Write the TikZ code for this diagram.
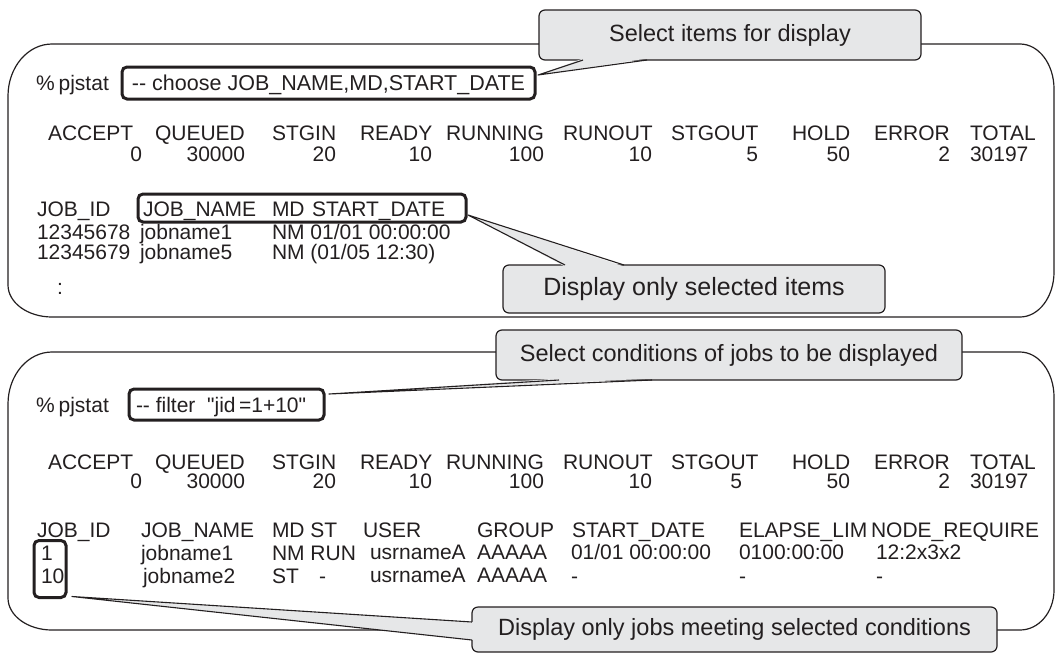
\documentclass[tikz,border=0pt]{standalone}
\usepackage{fontspec}
\newfontfamily\termfont{Liberation Sans}
\usetikzlibrary{calc}
\definecolor{ink}{HTML}{231F20}
\definecolor{bubblefill}{HTML}{E6E7E8}
\newcommand\tabsize{\termfont\fontsize{21}{24}\selectfont}
\newcommand\cmdsize{\termfont\fontsize{21.5}{24}\selectfont}
\newcommand\callsize{\termfont\fontsize{23.5}{26}\selectfont}
\newcommand\bigcallsize{\termfont\fontsize{25}{28}\selectfont}
\tikzset{
  txt/.style={inner sep=0pt, outer sep=0pt, text=ink, font=\tabsize},
  lt/.style={txt, anchor=base west},
  rt/.style={txt, anchor=base east},
  ct/.style={txt, anchor=base},
  panel/.style={draw=ink, line width=1.2pt},
  pick/.style={draw=ink, line width=3pt, rounded corners=5pt, inner sep=0pt, outer sep=0pt},
  bubble/.style={draw=ink, fill=bubblefill, line width=1.2pt, rounded corners=6pt,
                 inner sep=0pt, outer sep=0pt, text=ink, font=\callsize},
  tail/.style={draw=ink, line width=1.1pt, line join=round},
}
\begin{document}
\begin{tikzpicture}[x=1pt,y=1pt]
\useasboundingbox (0,0) rectangle (1056,-653);

% ---------- upper terminal panel ----------
\draw[panel] (52,-44) -- (1020,-44)
  arc[start angle=90,end angle=0,x radius=34,y radius=45] -- (1054,-272)
  arc[start angle=0,end angle=-90,x radius=34,y radius=45] -- (52,-317)
  arc[start angle=270,end angle=180,x radius=44,y radius=32] -- (8,-96)
  arc[start angle=180,end angle=90,x radius=44,y radius=52] -- cycle;

\node[lt] (p1) at (36,-90.5) {\%\kern4pt pjstat};
\node[pick, minimum width=413pt, minimum height=32pt] (choose) at (328.5,-83) {};
\node[ct, font=\cmdsize] (choosetxt) at (328.5,-90.5) {-- choose JOB\_NAME,MD,START\_DATE};

% status summary
\node[lt] (h1a) at (48,-140.5) {ACCEPT};
\node[lt] (h1b) at (155,-140.5) {QUEUED};
\node[lt] (h1c) at (272,-140.5) {STGIN};
\node[lt] (h1d) at (360,-140.5) {READY};
\node[lt] (h1e) at (446,-140.5) {RUNNING};
\node[lt] (h1f) at (563,-140.5) {RUNOUT};
\node[lt] (h1g) at (671,-140.5) {STGOUT};
\node[lt] (h1h) at (792,-140.5) {HOLD};
\node[lt] (h1i) at (874,-140.5) {ERROR};
\node[lt] (h1j) at (970,-140.5) {TOTAL};
\node[rt] (v1a) at (142,-161) {0};
\node[rt] (v1b) at (245,-161) {30000};
\node[rt] (v1c) at (336,-161) {20};
\node[rt] (v1d) at (432,-161) {10};
\node[rt] (v1e) at (544,-161) {100};
\node[rt] (v1f) at (652,-161) {10};
\node[rt] (v1g) at (758,-161) {5};
\node[rt] (v1h) at (850,-161) {50};
\node[rt] (v1i) at (950,-161) {2};
\node[lt] (v1j) at (970,-161) {30197};

% job list
\node[pick, minimum width=328pt, minimum height=28pt] (jn) at (302,-208) {};
\node[lt] (j1a) at (37,-216) {JOB\_ID};
\node[lt] (j1b) at (143,-216) {JOB\_NAME};
\node[lt] (j1c) at (272,-216) {MD};
\node[lt] (j1d) at (312,-216) {START\_DATE};
\node[lt] (r1a) at (37,-239) {12345678};
\node[lt] (r1b) at (140,-239) {jobname1};
\node[lt] (r1c) at (272,-239) {NM 01/01 00:00:00};
\node[lt] (r2a) at (37,-259.5) {12345679};
\node[lt] (r2b) at (140,-259.5) {jobname5};
\node[lt] (r2c) at (272,-259.5) {NM (01/05 12:30)};
\node[lt] (more) at (57,-294) {:};

% callouts of the upper panel
\node[bubble, minimum width=382pt, minimum height=50pt] (c1) at (730,-35) {Select items for display};
\coordinate (t1) at ($(choose.north east)+(3pt,-8pt)$);
\fill[bubblefill] ($(c1.south west)+(44pt,1.5pt)$) -- (t1) -- ($(c1.south west)+(108pt,1.5pt)$) -- cycle;
\draw[tail] ($(c1.south west)+(44pt,0)$) -- (t1) -- ($(c1.south west)+(108pt,0)$);

\node[bubble, font=\bigcallsize, minimum width=382pt, minimum height=48pt] (c3) at (694,-289) {Display only selected items};
\coordinate (t3) at ($(jn.east)+(2pt,-7pt)$);
\fill[bubblefill] ($(c3.north west)+(62pt,-1.5pt)$) -- (t3) -- ($(c3.north west)+(121pt,-1.5pt)$) -- cycle;
\draw[tail] ($(c3.north west)+(62pt,0)$) -- (t3) -- ($(c3.north west)+(121pt,0)$);

% ---------- lower terminal panel ----------
\draw[panel] (52,-352) -- (1020,-352)
  arc[start angle=90,end angle=0,x radius=34,y radius=45] -- (1054,-590)
  arc[start angle=0,end angle=-90,x radius=34,y radius=40] -- (52,-630)
  arc[start angle=270,end angle=180,x radius=44,y radius=32] -- (8,-404)
  arc[start angle=180,end angle=90,x radius=44,y radius=52] -- cycle;

\node[lt] (p2) at (36,-412) {\%\kern4pt pjstat};
\node[pick, minimum width=195pt, minimum height=31pt] (filter) at (226.5,-404.5) {};
\node[lt] (filtertxt) at (136,-412) {-- filter\ \ "jid\,=1+10"};

\node[lt] (h2a) at (48,-469) {ACCEPT};
\node[lt] (h2b) at (155,-469) {QUEUED};
\node[lt] (h2c) at (272,-469) {STGIN};
\node[lt] (h2d) at (360,-469) {READY};
\node[lt] (h2e) at (446,-469) {RUNNING};
\node[lt] (h2f) at (563,-469) {RUNOUT};
\node[lt] (h2g) at (671,-469) {STGOUT};
\node[lt] (h2h) at (792,-469) {HOLD};
\node[lt] (h2i) at (874,-469) {ERROR};
\node[lt] (h2j) at (970,-469) {TOTAL};
\node[rt] (v2a) at (142,-488.5) {0};
\node[rt] (v2b) at (245,-488.5) {30000};
\node[rt] (v2c) at (336,-488.5) {20};
\node[rt] (v2d) at (432,-488.5) {10};
\node[rt] (v2e) at (544,-488.5) {100};
\node[rt] (v2f) at (652,-488.5) {10};
\node[rt] (v2g) at (742,-488.5) {5};
\node[rt] (v2h) at (850,-488.5) {50};
\node[rt] (v2i) at (950,-488.5) {2};
\node[lt] (v2j) at (970,-488.5) {30197};

\node[lt] (k1a) at (37,-537) {JOB\_ID};
\node[lt] (k1b) at (141,-537) {JOB\_NAME};
\node[lt] (k1c) at (272,-537) {MD ST};
\node[lt] (k1d) at (363,-537) {USER};
\node[lt] (k1e) at (477,-537) {GROUP};
\node[lt] (k1f) at (572,-537) {START\_DATE};
\node[lt] (k1g) at (739,-537) {ELAPSE\_LIM};
\node[lt] (k1h) at (871,-537) {NODE\_REQUIRE};

\node[pick, minimum width=32pt, minimum height=57pt] (jid) at (50,-569) {};
\node[lt] (s1a) at (41,-560) {1};
\node[lt] (s1b) at (141,-560) {jobname1};
\node[lt] (s1c) at (272,-560) {NM RUN};
\node[lt] (s1d) at (370,-559) {usrnameA};
\node[lt] (s1e) at (477,-559) {AAAAA};
\node[lt] (s1f) at (571,-559) {01/01 00:00:00};
\node[lt] (s1g) at (739,-559) {0100:00:00};
\node[lt] (s1h) at (876,-559) {12:2x3x2};
\node[lt] (s2a) at (41,-583) {10};
\node[lt] (s2b) at (143,-583) {jobname2};
\node[lt] (s2c) at (272,-583) {ST};
\node[lt] (s2d) at (319,-583) {-};
\node[lt] (s2e) at (370,-582) {usrnameA};
\node[lt] (s2f) at (477,-582) {AAAAA};
\node[lt] (s2g) at (571,-583) {-};
\node[lt] (s2h) at (739,-583) {-};
\node[lt] (s2i) at (876,-583) {-};

% callouts of the lower panel
\node[bubble, minimum width=466pt, minimum height=50pt] (c2) at (729,-355) {Select conditions of jobs to be displayed};
\coordinate (t2) at ($(filter.east)+(5pt,10.5pt)$);
\fill[bubblefill] ($(c2.south west)+(63pt,1.5pt)$) -- (t2) -- ($(c2.south west)+(156pt,1.5pt)$) -- cycle;
\draw[tail] ($(c2.south west)+(63pt,0)$) -- (t2) -- ($(c2.south west)+(156pt,0)$);

\node[bubble, minimum width=525pt, minimum height=45pt] (c4) at (734.5,-629.5) {Display only jobs meeting selected conditions};
\coordinate (t4) at ($(jid.south east)+(6pt,1pt)$);
\fill[bubblefill] ($(c4.north west)+(1.5pt,-15pt)$) -- (t4) -- ($(c4.north west)+(1.5pt,-33pt)$) -- cycle;
\draw[tail] ($(c4.north west)+(0,-15pt)$) -- (t4) -- ($(c4.north west)+(0,-33pt)$);
\end{tikzpicture}
\end{document}
